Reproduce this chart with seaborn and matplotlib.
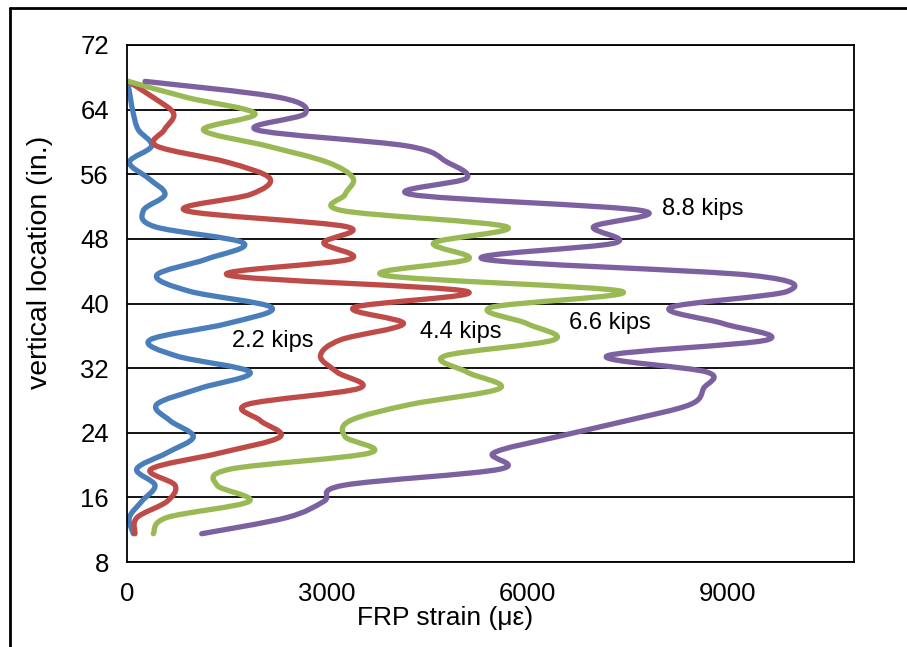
import numpy as np
import pandas as pd
import matplotlib
matplotlib.use("Agg")
import matplotlib.pyplot as plt
import seaborn as sns
from matplotlib.patheffects import AbstractPathEffect
from matplotlib.path import Path
from matplotlib.transforms import Affine2D
from matplotlib.lines import Line2D

# Gauge locations along the FRP strip (in.)
location = [67.5, 65.5, 63.5, 61.5, 59.5, 57.5, 55.5, 53.5, 51.5, 49.5,
            47.5, 45.5, 43.5, 41.5, 39.5, 37.5, 35.5, 33.5, 31.5, 29.5,
            27.5, 25.5, 23.5, 21.5, 19.5, 17.5, 15.5, 13.5, 11.5]

# FRP strain (micro-strain) at each location, per applied load
strain_2_2 = [10, 50, 95, 170, 370, 35, 320, 570, 245, 420,
              1745, 1195, 445, 945, 2170, 1495, 345, 745, 1845, 1095,
              445, 645, 995, 595, 145, 420, 220, 35, 95]
strain_4_4 = [15, 395, 700, 560, 445, 1500, 2140, 1850, 880, 3295,
              2950, 3345, 1520, 5095, 3400, 4145, 3200, 2900, 3150, 3480,
              1800, 2000, 2295, 1395, 360, 720, 600, 150, 120]
strain_6_6 = [20, 900, 1920, 1145, 2100, 3000, 3390, 3270, 3230, 5690,
              4600, 5120, 3850, 7420, 5450, 6000, 6400, 4760, 5100, 5590,
              4245, 3345, 3270, 3640, 1550, 1350, 1830, 595, 395]
strain_8_8 = [270, 2290, 2670, 1945, 4200, 4800, 5090, 4260, 7720, 6995,
              7320, 5345, 9345, 9900, 8145, 8945, 9600, 7195, 8700, 8645,
              8445, 7495, 6445, 5495, 5595, 3250, 2950, 2395, 1120]

loads = ["2.2 kips", "4.4 kips", "6.6 kips", "8.8 kips"]
colors = ["#4A7EBB", "#BE4B48", "#98B954", "#7D60A0"]

# Where each load label sits (strain, location)
label_x = [2190, 5000, 7240, 8630]
label_y = [35.3, 36.5, 37.6, 51.7]

x_ticks = [0, 3000, 6000, 9000]
y_ticks = [8, 16, 24, 32, 40, 48, 56, 64, 72]

frames = []
for name, vals in zip(loads, [strain_2_2, strain_4_4, strain_6_6, strain_8_8]):
    frames.append(pd.DataFrame({"load": name, "strain": vals, "location": location}))
df = pd.concat(frames, ignore_index=True)


class SmoothCurve(AbstractPathEffect):
    """Render a polyline as a smooth curve through its vertices."""

    def draw_path(self, renderer, gc, tpath, affine, rgbFace=None):
        pts = affine.transform(tpath.vertices)
        n = len(pts)
        if n < 3:
            renderer.draw_path(gc, tpath, affine, rgbFace)
            return
        verts = [pts[0]]
        codes = [Path.MOVETO]
        for i in range(n - 1):
            p0 = pts[i - 1] if i > 0 else pts[i]
            p1 = pts[i]
            p2 = pts[i + 1]
            p3 = pts[i + 2] if i + 2 < n else pts[i + 1]
            verts += [p1 + (p2 - p0) / 6.0, p2 - (p3 - p1) / 6.0, p2]
            codes += [Path.CURVE4] * 3
        renderer.draw_path(gc, Path(np.array(verts), codes), Affine2D(), rgbFace)


sns.set_style("white")
plt.rcParams["font.family"] = ["Liberation Sans", "DejaVu Sans"]
plt.rcParams["path.simplify"] = False
plt.rcParams["text.color"] = "black"
plt.rcParams["axes.labelcolor"] = "black"

fig = plt.figure(figsize=(9.07, 6.47), dpi=100)
W, H = 907, 647
ax = fig.add_axes([127 / W, 1 - 562 / H, (854 - 127) / W, (562 - 45) / H])

sns.lineplot(data=df, x="strain", y="location", hue="load", hue_order=loads,
             palette=colors, sort=False, estimator=None, linewidth=3.8,
             legend=False, ax=ax)
for line in ax.lines:
    line.set_solid_capstyle("round")
    line.set_solid_joinstyle("round")
    line.set_path_effects([SmoothCurve()])

ax.set_xlim(0, 10900)
ax.set_ylim(8, 72)
ax.set_xticks(x_ticks)
ax.set_yticks(y_ticks)
ax.yaxis.grid(True, color="black", linewidth=1.3)
ax.set_axisbelow(True)
for s in ax.spines.values():
    s.set_color("black")
    s.set_linewidth(1.3)
ax.tick_params(axis="both", direction="out", length=4, width=1.2,
               color="black", labelsize=18.5, labelcolor="black")
ax.tick_params(axis="x", pad=10.5)
ax.tick_params(axis="y", pad=9)

ax.set_xlabel("FRP strain (\u03bc\u03b5)", fontsize=19, color="black")
ax.xaxis.label.set_va("center")
ax.xaxis.set_label_coords((445 - 127) / 727, -(618 - 562) / 517)

ax.set_ylabel("vertical location (in.)", fontsize=20.5, color="black")
ax.yaxis.label.set_va("center")
ax.yaxis.set_label_coords((40 - 127) / 727, (562 - 262) / 517)

for txt, lx, ly in zip(loads, label_x, label_y):
    ax.text(lx, ly, txt, fontsize=17, ha="center", va="center", color="black")

# chart-area border (left and top edges)
fig.add_artist(Line2D([10 / W, 10 / W], [0, 1 - 8 / H], transform=fig.transFigure,
                      color="black", linewidth=2))
fig.add_artist(Line2D([10 / W, 1], [1 - 8 / H, 1 - 8 / H], transform=fig.transFigure,
                      color="black", linewidth=2))

fig.savefig("out.png", dpi=100)
